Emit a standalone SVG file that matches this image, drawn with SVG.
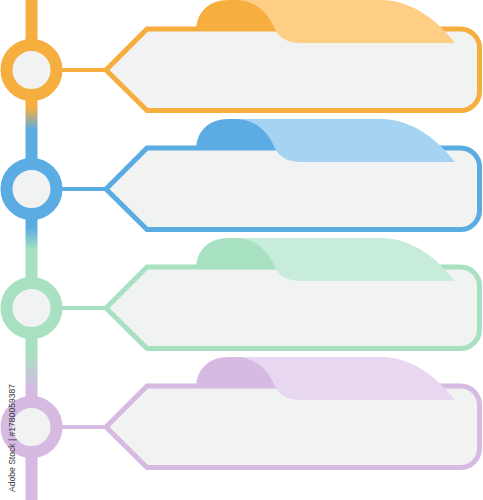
<svg xmlns="http://www.w3.org/2000/svg" width="483" height="500" viewBox="0 0 483 500">
  <defs>
    <linearGradient id="lineGrad" gradientUnits="userSpaceOnUse" x1="0" y1="0" x2="0" y2="500">
      <stop offset="0" stop-color="#F6AE3F"/>
      <stop offset="0.215" stop-color="#F6AE3F"/>
      <stop offset="0.26" stop-color="#5BACE2"/>
      <stop offset="0.455" stop-color="#5BACE2"/>
      <stop offset="0.5" stop-color="#A8E0C2"/>
      <stop offset="0.705" stop-color="#A8E0C2"/>
      <stop offset="0.78" stop-color="#D6BAE2"/>
      <stop offset="1" stop-color="#D6BAE2"/>
    </linearGradient>
  </defs>
  <style>
    .box { fill: #F1F2F2; stroke-width: 5; stroke-linejoin: miter; }
    .ring { fill: #F1F2F2; stroke-width: 12; }
    .conn { stroke-width: 4; fill: none; }
    .orange .box, .orange .ring, .orange .conn { stroke: #F6AE3F; }
    .orange .dark { fill: #F6AE3F; }
    .orange .light { fill: #FECE84; }
    .blue .box, .blue .ring, .blue .conn { stroke: #5BACE2; }
    .blue .dark { fill: #5BACE2; }
    .blue .light { fill: #A7D3F2; }
    .green .box, .green .ring, .green .conn { stroke: #A8E0C2; }
    .green .dark { fill: #A8E0C2; }
    .green .light { fill: #C7EDDA; }
    .purple .box, .purple .ring, .purple .conn { stroke: #D6BAE2; }
    .purple .dark { fill: #D6BAE2; }
    .purple .light { fill: #E8D7F1; }
    .wm { font-family: "Liberation Sans", Arial, sans-serif; font-size: 9.5px; fill: #3a3a3a; }
  </style>

  <g id="connectors">
    <line x1="31.5" y1="0" x2="31.5" y2="500" stroke="url(#lineGrad)" stroke-width="12"/>
    <g class="orange"><line class="conn" x1="62" y1="70" x2="107" y2="70"/></g>
    <g class="blue"><line class="conn" x1="62" y1="189" x2="107" y2="189"/></g>
    <g class="green"><line class="conn" x1="62" y1="308" x2="107" y2="308"/></g>
    <g class="purple"><line class="conn" x1="62" y1="427" x2="107" y2="427"/></g>
  </g>

  <g id="row1" class="orange">
    <circle class="ring" cx="31.5" cy="70" r="25"/>
    <path class="box" d="M106,70 L147,29 H460.5 A19,19 0 0 1 479.5,48 V91.5 A19,19 0 0 1 460.5,110.5 H147 Z"/>
    <path class="dark" d="M196,31 C196,13 208,0 229,0 L270,0 L300,31 Z"/>
    <path class="light" d="M236,0 H380 C415,0 440,24 455,43 H303 C285,43 278,37 273,25 C265,9 252,0 236,0 Z"/>
  </g>

  <g id="row2" class="blue" transform="translate(0,119)">
    <circle class="ring" cx="31.5" cy="70" r="25"/>
    <path class="box" d="M106,70 L147,29 H460.5 A19,19 0 0 1 479.5,48 V91.5 A19,19 0 0 1 460.5,110.5 H147 Z"/>
    <path class="dark" d="M196,31 C196,13 208,0 229,0 L270,0 L300,31 Z"/>
    <path class="light" d="M236,0 H380 C415,0 440,24 455,43 H303 C285,43 278,37 273,25 C265,9 252,0 236,0 Z"/>
  </g>

  <g id="row3" class="green" transform="translate(0,238)">
    <circle class="ring" cx="31.5" cy="70" r="25"/>
    <path class="box" d="M106,70 L147,29 H460.5 A19,19 0 0 1 479.5,48 V91.5 A19,19 0 0 1 460.5,110.5 H147 Z"/>
    <path class="dark" d="M196,31 C196,13 208,0 229,0 L270,0 L300,31 Z"/>
    <path class="light" d="M236,0 H380 C415,0 440,24 455,43 H303 C285,43 278,37 273,25 C265,9 252,0 236,0 Z"/>
  </g>

  <g id="row4" class="purple" transform="translate(0,357)">
    <circle class="ring" cx="31.5" cy="70" r="25"/>
    <path class="box" d="M106,70 L147,29 H460.5 A19,19 0 0 1 479.5,48 V91.5 A19,19 0 0 1 460.5,110.5 H147 Z"/>
    <path class="dark" d="M196,31 C196,13 208,0 229,0 L270,0 L300,31 Z"/>
    <path class="light" d="M236,0 H380 C415,0 440,24 455,43 H303 C285,43 278,37 273,25 C265,9 252,0 236,0 Z"/>
  </g>

  <text class="wm" transform="translate(14.5,492) rotate(-90)" textLength="108" lengthAdjust="spacingAndGlyphs">Adobe Stock | #1780059387</text>
</svg>
